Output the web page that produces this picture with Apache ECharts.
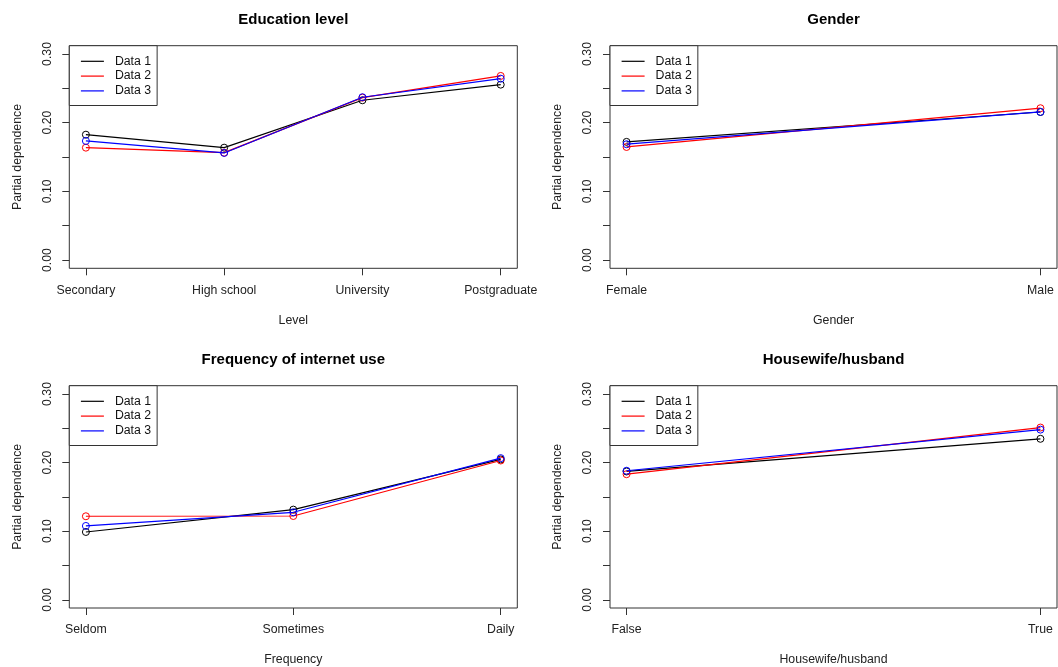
<!DOCTYPE html>
<html>
<head>
<meta charset="utf-8">
<script src="https://cdn.jsdelivr.net/npm/echarts@6/dist/echarts.min.js"></script>
<style>
html,body{margin:0;padding:0;background:#fff;}
#chart{width:1058px;height:667px;}
</style>
</head>
<body>
<div id="chart"></div>
<script>
// ---- Data ----
const seriesNames = ['Data 1', 'Data 2', 'Data 3'];
const seriesColors = ['#000000', '#ff0000', '#0000ff'];

const panelTitles = ['Education level', 'Gender', 'Frequency of internet use', 'Housewife/husband'];
const xAxisTitles = ['Level', 'Gender', 'Frequency', 'Housewife/husband'];
const yAxisTitle = 'Partial dependence';

const eduCats = ['Secondary', 'High school', 'University', 'Postgraduate'];
const eduData1 = [0.1825, 0.1636, 0.2326, 0.2553];
const eduData2 = [0.1636, 0.1563, 0.2364, 0.2680];
const eduData3 = [0.1734, 0.1559, 0.2370, 0.2640];

const genderCats = ['Female', 'Male'];
const genderData1 = [0.1720, 0.2155];
const genderData2 = [0.1646, 0.2210];
const genderData3 = [0.1686, 0.2156];

const freqCats = ['Seldom', 'Sometimes', 'Daily'];
const freqData1 = [0.0988, 0.1314, 0.2045];
const freqData2 = [0.1217, 0.1221, 0.2030];
const freqData3 = [0.1076, 0.1275, 0.2064];

const houseCats = ['False', 'True'];
const houseData1 = [0.1870, 0.2346];
const houseData2 = [0.1830, 0.2510];
const houseData3 = [0.1880, 0.2480];

const yTickValues = [0, 0.05, 0.10, 0.15, 0.20, 0.25, 0.30];
const yLabelValues = [0, 0.10, 0.20, 0.30];

// ---- Layout ----
const FONT = '"Liberation Sans", Arial, Helvetica, sans-serif';
const panels = [
  {cats: eduCats, data: [eduData1, eduData2, eduData3], left: 69.3, top: 45.7, width: 448},
  {cats: genderCats, data: [genderData1, genderData2, genderData3], left: 610, top: 45.7, width: 447},
  {cats: freqCats, data: [freqData1, freqData2, freqData3], left: 69.3, top: 385.7, width: 448},
  {cats: houseCats, data: [houseData1, houseData2, houseData3], left: 610, top: 385.7, width: 447}
];
const GRID_H = 222.6;

const grids = [], xAxes = [], yAxes = [], series = [], titles = [], legends = [];

panels.forEach((p, k) => {
  const n = p.cats.length;
  const pad = (n - 1) * 0.04;
  grids.push({
    left: p.left, top: p.top, width: p.width, height: GRID_H,
    show: true, borderColor: '#333', borderWidth: 1, backgroundColor: 'transparent',
    containLabel: false
  });
  const idx = p.cats.map((c, i) => i);
  xAxes.push({
    type: 'value', gridIndex: k, min: -pad, max: n - 1 + pad, position: 'bottom',
    name: xAxisTitles[k], nameLocation: 'middle', nameGap: 46,
    nameTextStyle: {fontFamily: FONT, fontSize: 12.3, color: '#222'},
    axisLine: {show: false, onZero: false},
    splitLine: {show: false},
    axisTick: {show: true, inside: false, length: 7, customValues: idx, lineStyle: {color: '#333', width: 1}},
    axisLabel: {
      show: true, customValues: idx, margin: 16,
      fontFamily: FONT, fontSize: 12.3, color: '#222',
      formatter: v => p.cats[Math.round(v)]
    }
  });
  yAxes.push({
    type: 'value', gridIndex: k, min: -0.012, max: 0.312, position: 'left',
    name: yAxisTitle, nameLocation: 'middle', nameGap: 46, nameRotate: 90,
    nameTextStyle: {fontFamily: FONT, fontSize: 12.3, color: '#222'},
    axisLine: {show: false, onZero: false},
    splitLine: {show: false},
    axisTick: {show: true, inside: false, length: 7, customValues: yTickValues, lineStyle: {color: '#333', width: 1}},
    axisLabel: {
      show: true, customValues: yLabelValues, rotate: 90, margin: 16,
      fontFamily: FONT, fontSize: 12.3, color: '#222',
      formatter: v => Number(v).toFixed(2)
    }
  });
  titles.push({
    text: panelTitles[k],
    left: p.left + p.width / 2, top: p.top - 33.5, textAlign: 'center', padding: 0,
    textStyle: {fontFamily: FONT, fontSize: 15, fontWeight: 'bold', color: '#000'}
  });
  legends.push({
    data: seriesNames,
    left: p.left, top: p.top,
    orient: 'vertical',
    padding: [9, 6, 8, 11],
    itemGap: 1.6, itemWidth: 23, itemHeight: 14,
    borderColor: '#333', borderWidth: 1, backgroundColor: '#fff',
    selectedMode: false,
    itemStyle: {opacity: 0},
    lineStyle: {width: 1.2},
    textStyle: {fontFamily: FONT, fontSize: 12.3, color: '#111', padding: [0, 0, 0, 6]}
  });
  p.data.forEach((arr, s) => {
    series.push({
      name: seriesNames[s], type: 'line',
      xAxisIndex: k, yAxisIndex: k,
      data: arr.map((v, i) => [i, v]),
      symbol: 'circle', symbolSize: 7,
      lineStyle: {color: seriesColors[s], width: 1.2},
      itemStyle: {color: 'rgba(255,255,255,0)', borderColor: seriesColors[s], borderWidth: 1},
      emphasis: {disabled: true},
      animation: false, z: 3 + s
    });
  });
});

const chart = echarts.init(document.getElementById('chart'), null, {renderer: 'canvas'});
chart.setOption({
  backgroundColor: '#fff',
  animation: false,
  title: titles,
  legend: legends,
  grid: grids,
  xAxis: xAxes,
  yAxis: yAxes,
  series: series
});
</script>
</body>
</html>
